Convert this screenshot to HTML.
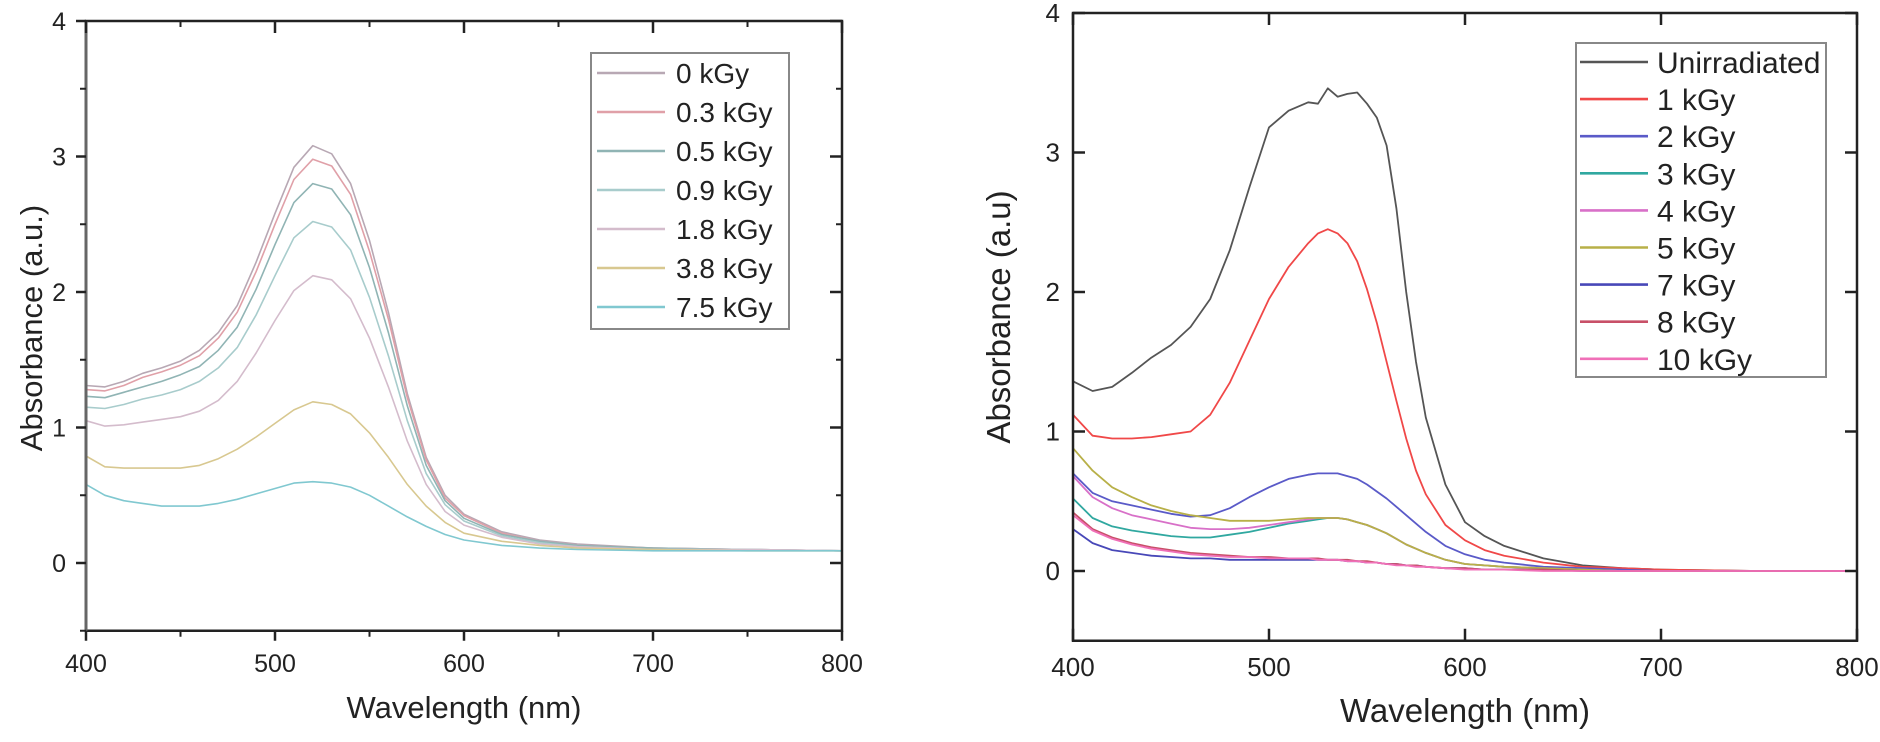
<!DOCTYPE html>
<html><head><meta charset="utf-8"><style>
html,body{margin:0;padding:0;background:#fff;}
svg{display:block;}
text{font-family:"Liberation Sans",sans-serif;fill:#222;}
.n{font-family:"Liberation Sans Narrow","Liberation Sans",sans-serif;}
</style></head><body>
<svg id="s" width="1880" height="742" viewBox="0 0 1880 742"></svg>
<script>
// ---- Left chart data ----
const wlL = [400,410,420,430,440,450,460,470,480,490,500,510,520,530,540,550,560,570,580,590,600,620,640,660,700,750,800];
const namesL = ["0 kGy","0.3 kGy","0.5 kGy","0.9 kGy","1.8 kGy","3.8 kGy","7.5 kGy"];
const colorsL = ["#b8a8b4","#e0a0a8","#90b4b4","#a8cccc","#d4bccc","#d8c890","#80c8d0"];
const s0 = [1.31,1.30,1.34,1.40,1.44,1.49,1.57,1.70,1.90,2.22,2.58,2.92,3.08,3.02,2.80,2.38,1.85,1.25,0.78,0.50,0.36,0.23,0.17,0.14,0.11,0.10,0.09];
const s03 = [1.28,1.27,1.31,1.37,1.41,1.46,1.53,1.66,1.85,2.15,2.50,2.83,2.98,2.93,2.72,2.30,1.80,1.22,0.76,0.48,0.35,0.22,0.16,0.13,0.11,0.10,0.09];
const s05 = [1.23,1.22,1.26,1.30,1.34,1.39,1.45,1.57,1.74,2.02,2.35,2.66,2.80,2.76,2.57,2.18,1.70,1.16,0.72,0.46,0.33,0.21,0.16,0.13,0.11,0.10,0.09];
const s09 = [1.15,1.14,1.17,1.21,1.24,1.28,1.34,1.44,1.59,1.83,2.12,2.40,2.52,2.48,2.31,1.96,1.53,1.05,0.66,0.43,0.31,0.20,0.15,0.12,0.10,0.10,0.09];
const s18 = [1.05,1.01,1.02,1.04,1.06,1.08,1.12,1.20,1.34,1.55,1.79,2.01,2.12,2.09,1.95,1.66,1.30,0.90,0.58,0.38,0.28,0.19,0.14,0.12,0.10,0.10,0.09];
const s38 = [0.79,0.71,0.70,0.70,0.70,0.70,0.72,0.77,0.84,0.93,1.03,1.13,1.19,1.17,1.10,0.96,0.78,0.58,0.42,0.30,0.22,0.16,0.13,0.11,0.10,0.09,0.09];
const s75 = [0.58,0.50,0.46,0.44,0.42,0.42,0.42,0.44,0.47,0.51,0.55,0.59,0.60,0.59,0.56,0.50,0.42,0.34,0.27,0.21,0.17,0.13,0.11,0.10,0.09,0.09,0.09];
const seriesL = [s0,s03,s05,s09,s18,s38,s75];
const xTicks = [400,500,600,700,800];
const yTicks = [0,1,2,3,4];

// ---- Right chart data ----
const wlR = [400,410,420,430,440,450,460,470,480,490,500,510,520,525,530,535,540,545,550,555,560,565,570,575,580,590,600,610,620,640,660,680,700,750,800];
const namesR = ["Unirradiated","1 kGy","2 kGy","3 kGy","4 kGy","5 kGy","7 kGy","8 kGy","10 kGy"];
const colorsR = ["#555555","#f04848","#5a5ac8","#30a8a0","#d870c8","#b8b048","#4848b8","#c85068","#f070b8"];
const rU  = [1.36,1.29,1.32,1.42,1.53,1.62,1.75,1.95,2.30,2.75,3.18,3.30,3.36,3.35,3.46,3.40,3.42,3.43,3.35,3.25,3.05,2.60,2.00,1.50,1.10,0.62,0.35,0.25,0.18,0.09,0.04,0.02,0.01,0.00,0.00];
const r1  = [1.12,0.97,0.95,0.95,0.96,0.98,1.00,1.12,1.35,1.65,1.95,2.18,2.35,2.42,2.45,2.42,2.35,2.22,2.02,1.78,1.50,1.22,0.95,0.72,0.55,0.33,0.22,0.15,0.11,0.06,0.03,0.02,0.01,0.00,0.00];
const r2  = [0.70,0.56,0.50,0.47,0.44,0.41,0.39,0.40,0.45,0.53,0.60,0.66,0.69,0.70,0.70,0.70,0.68,0.66,0.62,0.57,0.52,0.46,0.40,0.34,0.28,0.18,0.12,0.08,0.06,0.03,0.02,0.01,0.00,0.00,0.00];
const r3  = [0.52,0.38,0.32,0.29,0.27,0.25,0.24,0.24,0.26,0.28,0.31,0.34,0.36,0.37,0.38,0.38,0.37,0.35,0.33,0.30,0.27,0.23,0.19,0.16,0.13,0.08,0.05,0.04,0.03,0.02,0.01,0.00,0.00,0.00,0.00];
const r4  = [0.68,0.53,0.45,0.40,0.37,0.34,0.31,0.30,0.30,0.31,0.33,0.35,0.37,0.38,0.38,0.38,0.37,0.35,0.33,0.30,0.27,0.23,0.19,0.16,0.13,0.08,0.05,0.04,0.03,0.02,0.01,0.00,0.00,0.00,0.00];
const r5  = [0.88,0.72,0.60,0.53,0.47,0.43,0.40,0.38,0.36,0.36,0.36,0.37,0.38,0.38,0.38,0.38,0.37,0.35,0.33,0.30,0.27,0.23,0.19,0.16,0.13,0.08,0.05,0.04,0.03,0.02,0.01,0.00,0.00,0.00,0.00];
const r7  = [0.30,0.20,0.15,0.13,0.11,0.10,0.09,0.09,0.08,0.08,0.08,0.08,0.08,0.08,0.08,0.08,0.07,0.07,0.06,0.06,0.05,0.05,0.04,0.04,0.03,0.02,0.02,0.01,0.01,0.01,0.00,0.00,0.00,0.00,0.00];
const r8  = [0.42,0.30,0.24,0.20,0.17,0.15,0.13,0.12,0.11,0.10,0.10,0.09,0.09,0.09,0.08,0.08,0.08,0.07,0.07,0.06,0.05,0.05,0.04,0.04,0.03,0.02,0.02,0.01,0.01,0.01,0.00,0.00,0.00,0.00,0.00];
const r10 = [0.40,0.29,0.23,0.19,0.16,0.14,0.12,0.11,0.10,0.10,0.09,0.09,0.09,0.08,0.08,0.08,0.07,0.07,0.06,0.06,0.05,0.04,0.04,0.03,0.03,0.02,0.01,0.01,0.01,0.00,0.00,0.00,0.00,0.00,0.00];
const seriesR = [rU,r1,r2,r3,r4,r5,r7,r8,r10];

const svg = document.getElementById('s');
const NS = 'http://www.w3.org/2000/svg';
function mk(tag, attrs, parent){
  const e = document.createElementNS(NS, tag);
  for (const k in attrs) e.setAttribute(k, attrs[k]);
  (parent||svg).appendChild(e);
  return e;
}

function chart(cfg){
  const g = mk('g', {});
  
  
  const X = w => cfg.x0 + (w-400)/400*(cfg.x1-cfg.x0);
  const Y = a => cfg.y0 - a*cfg.ky;
  const top = Y(4), bot = Y(-0.5);
  cfg.series.forEach((s,i)=>{
    const pts = s.map((v,j)=>X(cfg.wl[j]).toFixed(1)+','+Y(v).toFixed(1)).join(' ');
    const pl = mk('polyline', {points:pts, fill:'none', stroke:cfg.colors[i], 'stroke-width':cfg.lw, 'stroke-linejoin':'round'}, g);
    
    
  });
  const fr = mk('rect', {x:cfg.x0, y:top, width:cfg.x1-cfg.x0, height:bot-top, fill:'none', stroke:'#222', 'stroke-width':2.5}, g);
  
  
  if (cfg.greyLeft) mk('line',{x1:cfg.x0,y1:top,x2:cfg.x0,y2:bot,stroke:'#666','stroke-width':3},g);
  xTicks.forEach(t=>{
    const x = X(t);
    if (cfg.outTicks) mk('line',{x1:x,y1:bot,x2:x,y2:bot+10,stroke:'#222','stroke-width':2.5},g);
    else mk('line',{x1:x,y1:bot,x2:x,y2:bot-12,stroke:'#222','stroke-width':2.5},g);
    mk('line',{x1:x,y1:top,x2:x,y2:top+12,stroke:'#222','stroke-width':2.5},g);
    const tl = mk('text',{x:x,y:cfg.xlabY,'text-anchor':'middle','font-size':cfg.fs,class:cfg.cls},g);
    tl.textContent = t;
    
    
  });
  if (cfg.minor){
    [450,550,650,750].forEach(t=>{
      const x = X(t);
      mk('line',{x1:x,y1:bot,x2:x,y2:bot+6,stroke:'#222','stroke-width':2},g);
      mk('line',{x1:x,y1:top,x2:x,y2:top+6,stroke:'#222','stroke-width':2},g);
    });
    [-0.5,0.5,1.5,2.5,3.5].forEach(t=>{
      const y = Y(t);
      mk('line',{x1:cfg.x0,y1:y,x2:cfg.x0-6,y2:y,stroke:'#222','stroke-width':2},g);
      mk('line',{x1:cfg.x1,y1:y,x2:cfg.x1-6,y2:y,stroke:'#222','stroke-width':2},g);
    });
  }
  yTicks.forEach(t=>{
    const y = Y(t);
    if (cfg.outTicks) mk('line',{x1:cfg.x0,y1:y,x2:cfg.x0-10,y2:y,stroke:'#222','stroke-width':2.5},g);
    else mk('line',{x1:cfg.x0,y1:y,x2:cfg.x0+12,y2:y,stroke:'#222','stroke-width':2.5},g);
    mk('line',{x1:cfg.x1,y1:y,x2:cfg.x1-12,y2:y,stroke:'#222','stroke-width':2.5},g);
    const tl = mk('text',{x:cfg.ylabX,y:y+9,'text-anchor':'end','font-size':cfg.fs,class:cfg.cls},g);
    tl.textContent = t;
    
    
  });
  const xt = mk('text',{x:(cfg.x0+cfg.x1)/2 + cfg.xtDx, y:cfg.xtY,'text-anchor':'middle','font-size':cfg.tfs,class:cfg.cls},g);
  xt.textContent = 'Wavelength (nm)';
  
  
  const yt = mk('text',{x:0,y:0,'text-anchor':'middle','font-size':cfg.tfs,class:cfg.cls,transform:`translate(${cfg.ytX},${cfg.ytY}) rotate(-90)`},g);
  yt.textContent = cfg.ytitle;
  
  
  const L = cfg.leg;
  const lg = mk('g',{},g);
  
  
  mk('rect',{x:L.x,y:L.y,width:L.w,height:L.h,fill:'#fff',stroke:'#888','stroke-width':2},lg);
  cfg.names.forEach((n,i)=>{
    const cy = L.r0 + i*L.dy;
    const ent = mk('g',{},lg);
    
    
    mk('line',{x1:L.lx1,y1:cy,x2:L.lx2,y2:cy,stroke:cfg.colors[i],'stroke-width':cfg.lw+0.8},ent);
    const t = mk('text',{x:L.tx,y:cy+L.ty,'font-size':L.fs,class:cfg.cls},ent);
    t.textContent = n;
  });
}

chart({name:'left-chart', x0:86, x1:842, y0:563, ky:135.5, wl:wlL, series:seriesL, names:namesL, colors:colorsL, lw:1.6,
  outTicks:true, minor:true, greyLeft:true, fs:25, cls:'', xlabY:672, ylabX:66, tfs:31, xtY:718, xtDx:0, ytX:42, ytY:328,
  ytitle:'Absorbance (a.u.)',
  leg:{x:591,y:53,w:198,h:276,r0:73,dy:39,lx1:597,lx2:665,tx:676,ty:10,fs:28}});

chart({name:'right-chart', x0:1073, x1:1857, y0:571, ky:139.5, wl:wlR, series:seriesR, names:namesR, colors:colorsR, lw:1.8,
  outTicks:false, minor:false, fs:26, cls:'n', xlabY:676, ylabX:1060, tfs:33, xtY:722, xtDx:0, ytX:1010, ytY:317,
  ytitle:'Absorbance (a.u)',
  leg:{x:1576,y:43,w:250,h:334,r0:62,dy:37.1,lx1:1580,lx2:1648,tx:1657,ty:11,fs:30}});
</script>
</body></html>
